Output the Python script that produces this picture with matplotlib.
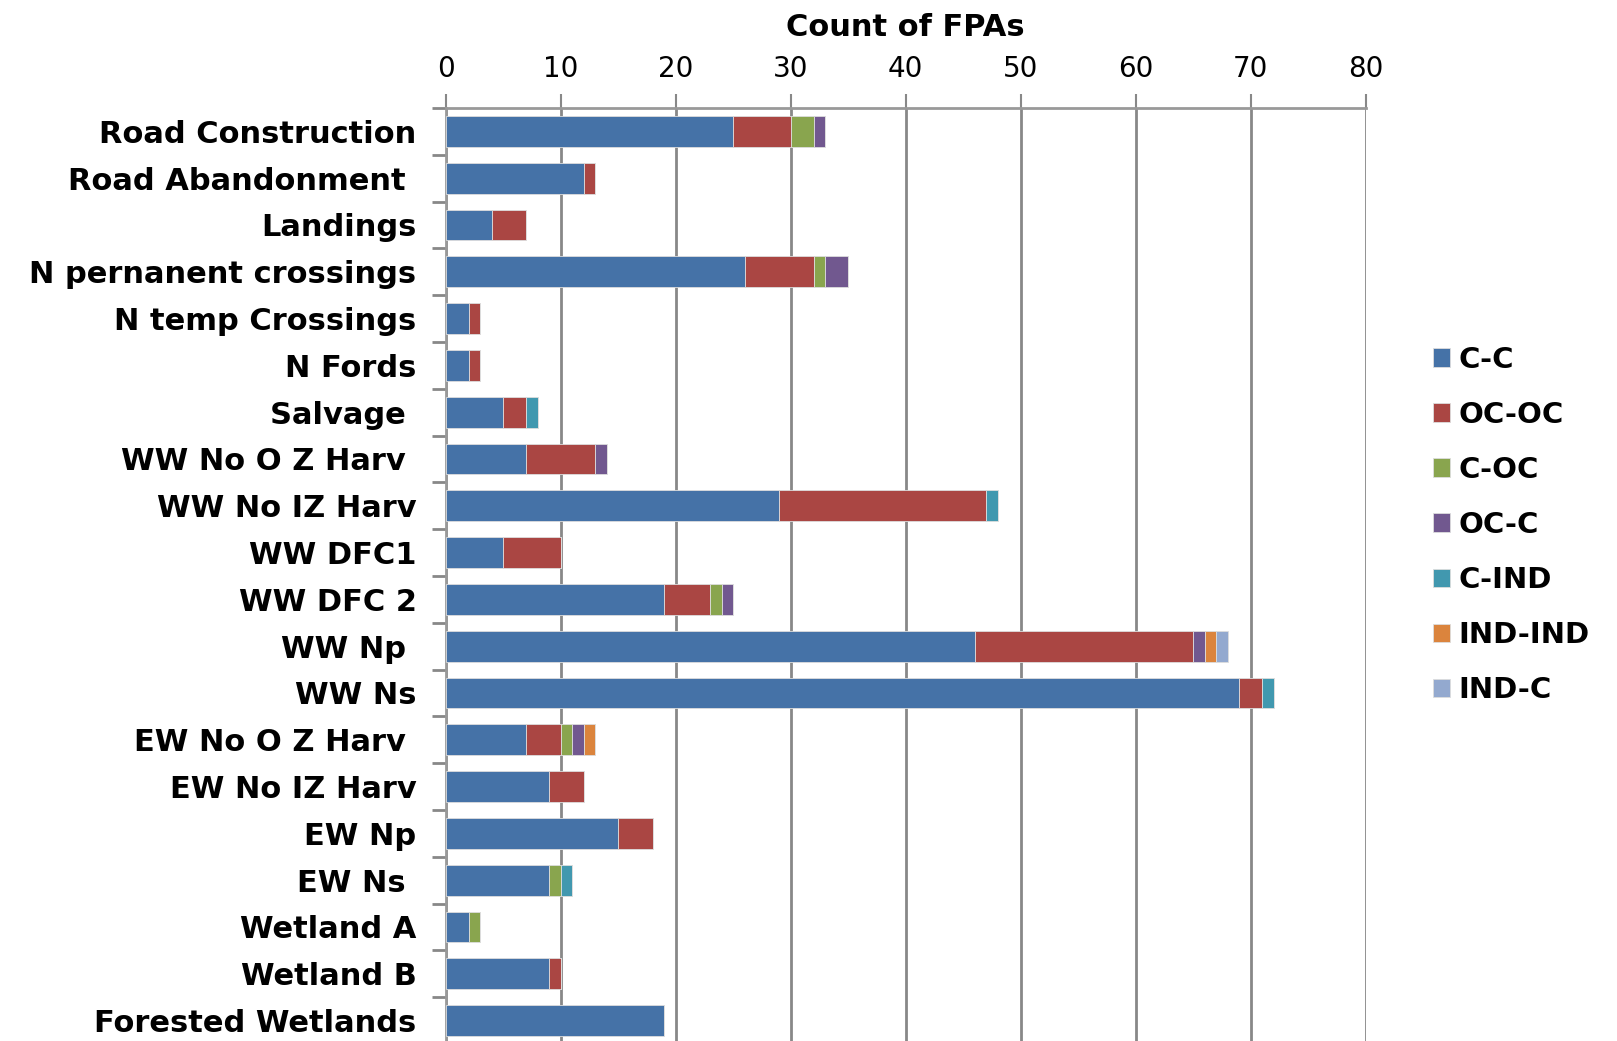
import numpy as np
import matplotlib.pyplot as plt

categories = ["Road Construction", "Road Abandonment ", "Landings", "N pernanent crossings",
              "N temp Crossings", "N Fords", "Salvage ", "WW No O Z Harv ", "WW No IZ Harv",
              "WW DFC1", "WW DFC 2", "WW Np ", "WW Ns", "EW No O Z Harv ", "EW No IZ Harv",
              "EW Np", "EW Ns ", "Wetland A", "Wetland B", "Forested Wetlands"]

c_c     = [25, 12, 4, 26, 2, 2, 5, 7, 29, 5, 19, 46, 69, 7, 9, 15, 9, 2, 9, 19]
oc_oc   = [5, 1, 3, 6, 1, 1, 2, 6, 18, 5, 4, 19, 2, 3, 3, 3, 0, 0, 1, 0]
c_oc    = [2, 0, 0, 1, 0, 0, 0, 0, 0, 0, 1, 0, 0, 1, 0, 0, 1, 1, 0, 0]
oc_c    = [1, 0, 0, 2, 0, 0, 0, 1, 0, 0, 1, 1, 0, 1, 0, 0, 0, 0, 0, 0]
c_ind   = [0, 0, 0, 0, 0, 0, 1, 0, 1, 0, 0, 0, 1, 0, 0, 0, 1, 0, 0, 0]
ind_ind = [0, 0, 0, 0, 0, 0, 0, 0, 0, 0, 0, 1, 0, 1, 0, 0, 0, 0, 0, 0]
ind_c   = [0, 0, 0, 0, 0, 0, 0, 0, 0, 0, 0, 1, 0, 0, 0, 0, 0, 0, 0, 0]

series = [("C-C", c_c, "#4572A7"), ("OC-OC", oc_oc, "#AA4643"), ("C-OC", c_oc, "#89A54E"),
          ("OC-C", oc_c, "#71588F"), ("C-IND", c_ind, "#4198AF"),
          ("IND-IND", ind_ind, "#DB843D"), ("IND-C", ind_c, "#93A9CF")]

fig = plt.figure(figsize=(16.17, 10.41), dpi=100)
ax = fig.add_axes([445.7 / 1617, 1 - 1044 / 1041, 920 / 1617, (1044 - 108) / 1041])

y = np.arange(len(categories))
left = np.zeros(len(categories))
for name, vals, col in series:
    vals = np.array(vals, dtype=float)
    ax.barh(y, vals, left=left, height=0.66, color=col, edgecolor='#dddddd',
            linewidth=0.6, label=name, zorder=3)
    left += vals

ax.set_xlim(0, 80)
ax.set_ylim(len(categories) - 0.5, -0.5)
ax.set_xticks(range(0, 81, 10))
ax.xaxis.tick_top()
ax.xaxis.set_label_position('top')
ax.set_xlabel("Count of FPAs", fontsize=22, fontweight='bold', labelpad=14)
ax.tick_params(axis='x', labelsize=20, length=10, width=1.5, color='#888888', pad=8)
ax.grid(axis='x', color='#888888', linewidth=2, zorder=0)

ax.set_yticks(y)
ax.set_yticklabels(categories, fontsize=22, fontweight='bold')
ax.set_yticks(np.arange(len(categories) + 1) - 0.5, minor=True)
ax.tick_params(axis='y', which='major', length=0, pad=21)
ax.tick_params(axis='y', which='minor', length=10, width=2, color='#888888')

for s in ['right', 'bottom']:
    ax.spines[s].set_visible(False)
for s in ['top', 'left']:
    ax.spines[s].set_color('#999999')
    ax.spines[s].set_linewidth(2)

fig.legend(loc='upper left', bbox_to_anchor=(1418 / 1617, 1 - 331 / 1041), frameon=False,
           prop={'size': 21, 'weight': 'bold'}, handlelength=0.6, handleheight=0.6,
           handletextpad=0.3, labelspacing=0.93, borderpad=0)

fig.savefig("out.png", dpi=100)
